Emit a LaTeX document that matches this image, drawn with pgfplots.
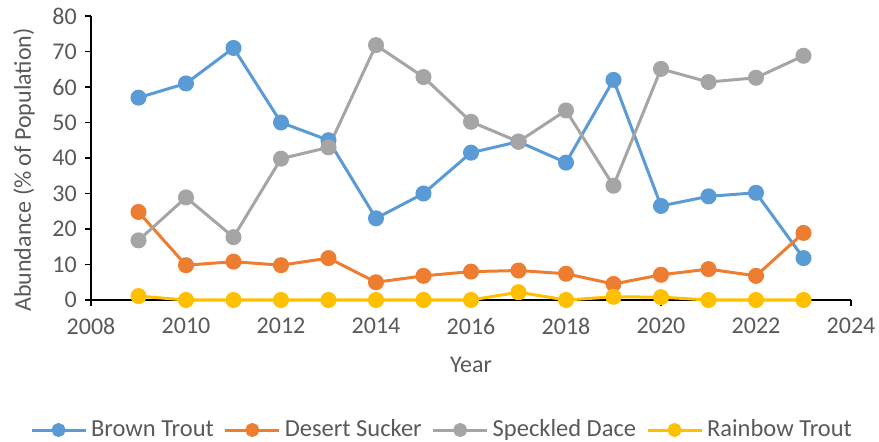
\documentclass[border=0pt]{standalone}
\usepackage{pgfplots}
\pgfplotsset{compat=1.18}
\usepackage{fontspec}
\setmainfont{Carlito}
\definecolor{cblue}{HTML}{5B9BD5}
\definecolor{corange}{HTML}{ED7D31}
\definecolor{cgray}{HTML}{A5A5A5}
\definecolor{cyellow}{HTML}{FFC000}
\definecolor{txt}{HTML}{595959}
\begin{document}
\fontsize{24bp}{28bp}\selectfont
\begin{tikzpicture}
\useasboundingbox (0,0) rectangle (879bp,442bp);
\begin{axis}[
  at={(91bp,142bp)}, anchor=south west,
  scale only axis, width=760bp, height=284bp,
  xmin=2008, xmax=2024, ymin=0, ymax=80,
  xtick={2008,2010,...,2024}, ytick={0,10,...,80},
  axis x line=bottom, axis y line=left,
  axis line style={black, line width=1.5bp, -},
  tick style={black, line width=1.5bp},
  tick align=outside, major tick length=6bp,
  xtick pos=bottom, ytick pos=left,
  /pgf/number format/assume math mode=true,
  /pgf/number format/1000 sep={},
  tick label style={font=\fontsize{24bp}{28bp}\selectfont, text=txt},
  xticklabel style={yshift=-4bp},
  xlabel={Year}, ylabel={Abundance (\% of Population)},
  label style={font=\fontsize{24bp}{28bp}\selectfont, text=txt},
  xlabel style={at={(axis description cs:0.5,-0.229)}, anchor=center},
  ylabel style={at={(axis description cs:-0.088,0.458)}, anchor=center},
  clip=false,
  legend style={at={(351bp,-130bp)}, anchor=center, draw=none, fill=none,
    legend columns=4, font=\fontsize{24.5bp}{28bp}\selectfont, text=txt,
    inner sep=0pt,
    /tikz/every even column/.append style={column sep=8bp},
    /tikz/every odd column/.append style={column sep=2bp}},
  legend image code/.code={
    \draw[mark repeat=2, mark phase=2, mark size=5.5bp]
      plot coordinates {(0bp,0bp) (27bp,0bp) (54bp,0bp)};},
  every axis plot/.append style={line width=3bp, mark=*, mark size=6.5bp},
]
\addplot[cblue, mark options={fill=cblue, draw=cblue}] coordinates {
(2009,57) (2010,61) (2011,71) (2012,50) (2013,45) (2014,23) (2015,30) (2016,41.5)
(2017,44.6) (2018,38.7) (2019,62) (2020,26.5) (2021,29.2) (2022,30.2) (2023,11.8)};
\addlegendentry{Brown Trout}
\addplot[corange, mark options={fill=corange, draw=corange}] coordinates {
(2009,24.8) (2010,9.8) (2011,10.8) (2012,9.8) (2013,11.8) (2014,5.0) (2015,6.8) (2016,8.0)
(2017,8.3) (2018,7.4) (2019,4.5) (2020,7.1) (2021,8.7) (2022,6.8) (2023,18.9)};
\addlegendentry{Desert Sucker}
\addplot[cgray, mark options={fill=cgray, draw=cgray}] coordinates {
(2009,16.8) (2010,28.9) (2011,17.7) (2012,39.8) (2013,43) (2014,71.8) (2015,62.8) (2016,50.2)
(2017,44.6) (2018,53.4) (2019,32.2) (2020,65.1) (2021,61.4) (2022,62.6) (2023,68.8)};
\addlegendentry{Speckled Dace}
\addplot[cyellow, mark options={fill=cyellow, draw=cyellow}] coordinates {
(2009,1.1) (2010,0) (2011,0) (2012,0) (2013,0) (2014,0) (2015,0) (2016,0)
(2017,2.2) (2018,0) (2019,0.9) (2020,0.8) (2021,0) (2022,0) (2023,0)};
\addlegendentry{Rainbow Trout}
\end{axis}
\end{tikzpicture}
\end{document}
